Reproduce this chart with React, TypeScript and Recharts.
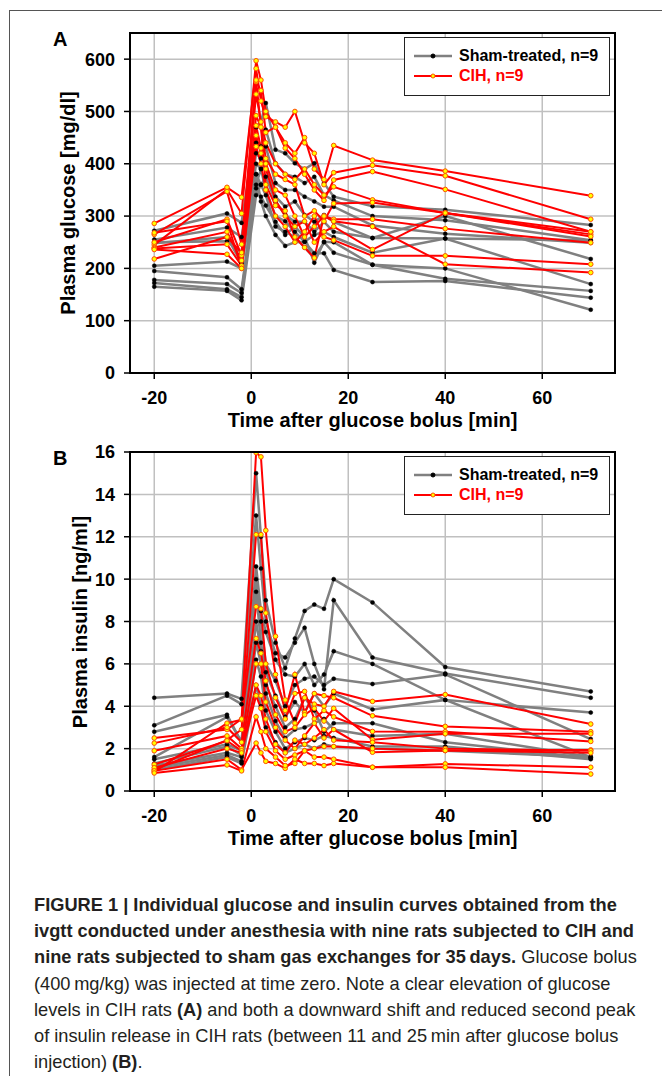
import React from 'react';
import { LineChart, Line, XAxis, YAxis, CartesianGrid } from 'recharts';

// sampling times (min after glucose bolus)
const times = [-20, -5, -2, 1, 2, 3, 5, 7, 9, 11, 13, 15, 17, 25, 40, 70];
const xTicks = [-20, 0, 20, 40, 60];

// plasma glucose [mg/dl], one row per rat
const glucoseSham = [
  [272, 305, 287, 470, 480, 516, 427, 420, 401, 390, 401, 363, 337, 319, 312, 283],
  [255, 278, 260, 440, 433, 465, 401, 380, 375, 363, 375, 340, 330, 300, 292, 254],
  [250, 252, 230, 420, 410, 433, 363, 350, 350, 337, 328, 318, 318, 282, 266, 249],
  [248, 260, 210, 400, 390, 401, 337, 318, 328, 302, 289, 302, 289, 258, 257, 254],
  [205, 213, 200, 380, 360, 375, 328, 302, 289, 289, 270, 289, 270, 258, 300, 218],
  [195, 183, 160, 360, 390, 350, 300, 290, 270, 251, 264, 270, 260, 230, 257, 170],
  [178, 170, 153, 353, 337, 320, 289, 264, 280, 260, 211, 251, 250, 207, 180, 157],
  [172, 160, 145, 380, 328, 300, 264, 243, 250, 251, 229, 229, 197, 174, 176, 144],
  [165, 157, 139, 340, 360, 340, 280, 270, 260, 240, 220, 250, 230, 207, 200, 121],
];
const glucoseCih = [
  [245, 351, 305, 597, 560, 500, 470, 440, 420, 450, 390, 370, 435, 407, 386, 339],
  [286, 355, 336, 582, 520, 490, 480, 470, 500, 440, 420, 360, 383, 397, 377, 294],
  [265, 347, 246, 557, 540, 460, 470, 430, 410, 380, 350, 330, 369, 385, 351, 270],
  [250, 294, 225, 533, 480, 440, 400, 380, 370, 390, 360, 340, 356, 331, 306, 265],
  [240, 270, 215, 492, 470, 410, 380, 370, 360, 300, 310, 290, 324, 326, 306, 261],
  [238, 246, 205, 473, 430, 400, 350, 340, 300, 260, 280, 300, 294, 294, 276, 249],
  [236, 227, 200, 454, 420, 390, 330, 300, 280, 290, 250, 270, 280, 236, 306, 270],
  [268, 290, 200, 433, 400, 350, 300, 280, 250, 270, 300, 260, 254, 224, 224, 208],
  [218, 260, 230, 560, 470, 360, 320, 310, 260, 240, 220, 300, 290, 280, 208, 192],
];

// plasma insulin [ng/ml], one row per rat
const insulinSham = [
  [4.4, 4.6, 4.35, 15.0, 12.0, 9.0, 7.0, 5.8, 7.2, 8.5, 8.8, 8.6, 10.0, 8.9, 5.85, 4.7],
  [3.1, 4.5, 4.1, 13.0, 10.5, 8.0, 6.5, 6.3, 7.0, 7.7, 6.0, 4.8, 9.0, 6.3, 5.55, 4.4],
  [2.8, 3.6, 2.3, 10.6, 8.5, 7.5, 6.2, 5.5, 5.4, 6.0, 5.0, 5.5, 6.6, 6.0, 4.3, 3.7],
  [1.6, 3.5, 2.3, 10.0, 8.0, 6.0, 5.2, 4.0, 5.0, 5.3, 5.4, 5.0, 5.3, 5.05, 5.5, 2.45],
  [1.5, 2.2, 1.9, 9.4, 7.0, 5.6, 4.5, 3.5, 4.2, 3.7, 4.6, 4.0, 4.6, 3.85, 4.3, 1.6],
  [1.3, 2.1, 1.7, 8.0, 6.6, 5.0, 4.0, 3.0, 3.4, 4.4, 3.8, 2.8, 3.2, 3.2, 2.3, 1.55],
  [1.2, 1.8, 1.6, 7.0, 6.0, 4.6, 3.3, 2.5, 2.9, 3.0, 3.2, 3.4, 2.9, 2.6, 2.7, 1.6],
  [1.1, 1.7, 1.4, 6.2, 5.4, 3.8, 2.8, 2.0, 2.3, 2.5, 2.4, 2.6, 2.5, 2.1, 2.1, 1.5],
  [1.0, 1.6, 1.3, 5.0, 4.0, 3.0, 2.3, 1.8, 2.0, 2.2, 2.0, 2.2, 2.1, 2.0, 1.9, 1.6],
];
const insulinCih = [
  [0.9, 3.2, 3.36, 15.97, 15.77, 12.3, 7.3, 4.3, 3.2, 4.4, 4.1, 4.0, 4.7, 4.23, 4.55, 3.16],
  [1.0, 2.4, 2.9, 12.1, 12.1, 8.4, 5.5, 3.8, 5.5, 3.7, 4.6, 4.5, 4.4, 3.55, 3.05, 2.8],
  [2.5, 2.9, 3.4, 8.7, 8.6, 6.0, 4.4, 3.4, 4.6, 4.7, 3.4, 3.8, 3.5, 2.81, 2.8, 2.34],
  [2.26, 3.0, 2.3, 7.2, 6.5, 5.2, 3.6, 2.8, 3.0, 3.6, 3.9, 3.3, 3.9, 2.42, 2.7, 2.7],
  [1.9, 2.6, 2.0, 6.0, 6.0, 4.2, 3.0, 2.4, 2.0, 2.6, 3.2, 2.5, 2.9, 1.83, 1.91, 1.94],
  [1.25, 2.37, 1.9, 5.0, 4.5, 3.4, 2.2, 1.8, 2.4, 2.2, 2.5, 2.9, 2.4, 2.3, 2.0, 1.9],
  [1.1, 2.0, 1.8, 4.5, 3.9, 2.8, 1.9, 1.5, 1.7, 1.9, 2.0, 2.1, 2.1, 2.0, 1.91, 1.8],
  [0.95, 1.5, 1.0, 2.26, 1.8, 1.4, 1.3, 1.07, 1.5, 1.3, 1.3, 1.2, 1.3, 1.12, 1.28, 1.12],
  [0.85, 1.23, 0.95, 3.5, 2.8, 2.0, 1.6, 1.2, 1.3, 1.9, 1.6, 1.6, 1.5, 1.12, 1.12, 0.8],
];

const glucoseTicks = [0, 100, 200, 300, 400, 500, 600];
const insulinTicks = [0, 2, 4, 6, 8, 10, 12, 14, 16];

const shamLabel = 'Sham-treated, n=9';
const cihLabel = 'CIH, n=9';

const FONT = 'Arial, "Liberation Sans", Helvetica, sans-serif';
const GRAY = '#808080';
const RED = '#ff0000';

const buildRows = (sham: number[][], cih: number[][]) =>
  times.map((t, i) => {
    const row: Record<string, number> = { t };
    sham.forEach((s, k) => (row[`s${k}`] = s[i]));
    cih.forEach((s, k) => (row[`c${k}`] = s[i]));
    return row;
  });

function LegendBox({ left, top }: { left: number; top: number }) {
  const row = (color: string, text: string, dotFill: string, dotStroke: string, width: number) => (
    <div style={{ display: 'flex', alignItems: 'center', height: 20 }}>
      <svg width={46} height={10} style={{ marginLeft: 8 }}>
        <line x1={1} y1={5} x2={39} y2={5} stroke={color} strokeWidth={width} />
        <circle cx={20} cy={5} r={2} fill={dotFill} stroke={dotStroke} strokeWidth={1} />
      </svg>
      <span style={{ color: color === GRAY ? '#000' : RED, fontWeight: 'bold', fontSize: 16 }}>{text}</span>
    </div>
  );
  return (
    <div
      style={{
        position: 'absolute', left, top, width: 206, height: 59, boxSizing: 'border-box',
        border: '1.5px solid #222', background: '#fff', paddingTop: 8, fontFamily: FONT,
      }}
    >
      {row(GRAY, shamLabel, '#000', '#000', 2.5)}
      {row(RED, cihLabel, '#ffff00', '#ff5000', 2)}
    </div>
  );
}

interface PanelProps {
  top: number;
  plotTop: number;
  plotBottom: number;
  sham: number[][];
  cih: number[][];
  yDomain: [number, number];
  yTicks: number[];
  yLabel: string;
  yLabelX: number;
  letter: string;
  legendTop: number;
}

function Panel({ top, plotTop, plotBottom, sham, cih, yDomain, yTicks, yLabel, yLabelX, letter, legendTop }: PanelProps) {
  const H = 440;
  const data = buildRows(sham, cih);
  const plotLeft = 130;
  const plotRight = 615;
  const midY = (plotTop + plotBottom) / 2;
  return (
    <div style={{ position: 'absolute', left: 0, top, width: 662, height: H }}>
      <LineChart
        width={662}
        height={H}
        data={data}
        margin={{ top: plotTop, right: 662 - plotRight, left: plotLeft - 50, bottom: H - plotBottom - 40 }}
      >
        <CartesianGrid stroke="#c0c0c0" strokeWidth={1.5} />
        <XAxis
          dataKey="t"
          type="number"
          domain={[-25, 75]}
          ticks={xTicks}
          height={40}
          axisLine={false}
          tickLine={{ stroke: '#000', strokeWidth: 1.5 }}
          tickSize={6}
          tickMargin={12}
          tick={{ fill: '#000', fontSize: 18, fontWeight: 'bold', fontFamily: FONT }}
          allowDataOverflow
        />
        <YAxis
          type="number"
          domain={yDomain}
          ticks={yTicks}
          width={50}
          axisLine={false}
          tickLine={{ stroke: '#000', strokeWidth: 1.5 }}
          tickSize={6}
          tickMargin={9}
          tick={{ fill: '#000', fontSize: 18, fontWeight: 'bold', fontFamily: FONT }}
          allowDataOverflow
        />
        {sham.map((_, k) => (
          <Line
            key={`s${k}`}
            dataKey={`s${k}`}
            stroke={GRAY}
            strokeWidth={2.5}
            dot={{ r: 2, fill: '#000', stroke: '#000', strokeWidth: 0.5 }}
            isAnimationActive={false}
          />
        ))}
        {cih.map((_, k) => (
          <Line
            key={`c${k}`}
            dataKey={`c${k}`}
            stroke={RED}
            strokeWidth={2}
            dot={{ r: 2.3, fill: '#ffff00', stroke: '#ff5000', strokeWidth: 1 }}
            isAnimationActive={false}
          />
        ))}
      </LineChart>
      <div
        style={{
          position: 'absolute', left: plotLeft - 1, top: plotTop - 1, width: plotRight - plotLeft + 2,
          height: plotBottom - plotTop + 2, border: '2px solid #000', boxSizing: 'border-box', pointerEvents: 'none',
        }}
      />
      <LegendBox left={404} top={legendTop} />
      <div
        style={{
          position: 'absolute', left: yLabelX - 150, top: midY - 12, width: 300, height: 24, lineHeight: '24px',
          textAlign: 'center', transform: 'rotate(-90deg)', fontFamily: FONT, fontWeight: 'bold', fontSize: 20, color: '#000',
        }}
      >
        {yLabel}
      </div>
      <div
        style={{
          position: 'absolute', left: (plotLeft + plotRight) / 2 - 200, top: plotBottom + 35, width: 400, height: 24,
          lineHeight: '24px', textAlign: 'center', fontFamily: FONT, fontWeight: 'bold', fontSize: 20, color: '#000',
        }}
      >
        Time after glucose bolus [min]
      </div>
      <div
        style={{
          position: 'absolute', left: 53, top: plotTop - 4, lineHeight: '20px',
          fontFamily: FONT, fontWeight: 'bold', fontSize: 20, color: '#000',
        }}
      >
        {letter}
      </div>
    </div>
  );
}

const capFont = '"Liberation Sans Narrow", "Arial Narrow", Arial, sans-serif';

export default function App() {
  const line = (content: React.ReactNode, i: number) => (
    <div
      key={i}
      style={{
        position: 'absolute', left: 34, top: 892 + i * 26.2, whiteSpace: 'nowrap', lineHeight: '26px',
        transform: 'scaleX(0.96)', transformOrigin: 'left center',
      }}
    >
      {content}
    </div>
  );
  return (
    <div style={{ position: 'absolute', left: 0, top: 0, width: 662, height: 1076, overflow: 'hidden', background: '#fff' }}>
      <div style={{ position: 'absolute', left: 9, top: 10, width: 700, height: 1100, border: '1.5px solid #555' }} />
      <Panel
        top={0}
        plotTop={33}
        plotBottom={373}
        sham={glucoseSham}
        cih={glucoseCih}
        yDomain={[0, 650]}
        yTicks={glucoseTicks}
        yLabel="Plasma glucose [mg/dl]"
        yLabelX={68}
        letter="A"
        legendTop={37}
      />
      <Panel
        top={420}
        plotTop={32}
        plotBottom={371}
        sham={insulinSham}
        cih={insulinCih}
        yDomain={[0, 16]}
        yTicks={insulinTicks}
        yLabel="Plasma insulin [ng/ml]"
        yLabelX={80}
        letter="B"
        legendTop={36}
      />
      <div style={{ fontFamily: capFont, fontSize: 19, color: '#231f20' }}>
        {line(<b>FIGURE 1 | Individual glucose and insulin curves obtained from the</b>, 0)}
        {line(<b>ivgtt conducted under anesthesia with nine rats subjected to CIH and</b>, 1)}
        {line(<><b>nine rats subjected to sham gas exchanges for 35&#8201;days.</b> Glucose bolus</>, 2)}
        {line(<>(400&#8201;mg/kg) was injected at time zero. Note a clear elevation of glucose</>, 3)}
        {line(<>levels in CIH rats <b>(A)</b> and both a downward shift and reduced second peak</>, 4)}
        {line(<>of insulin release in CIH rats (between 11 and 25&#8201;min after glucose bolus</>, 5)}
        {line(<>injection) <b>(B)</b>.</>, 6)}
      </div>
    </div>
  );
}
